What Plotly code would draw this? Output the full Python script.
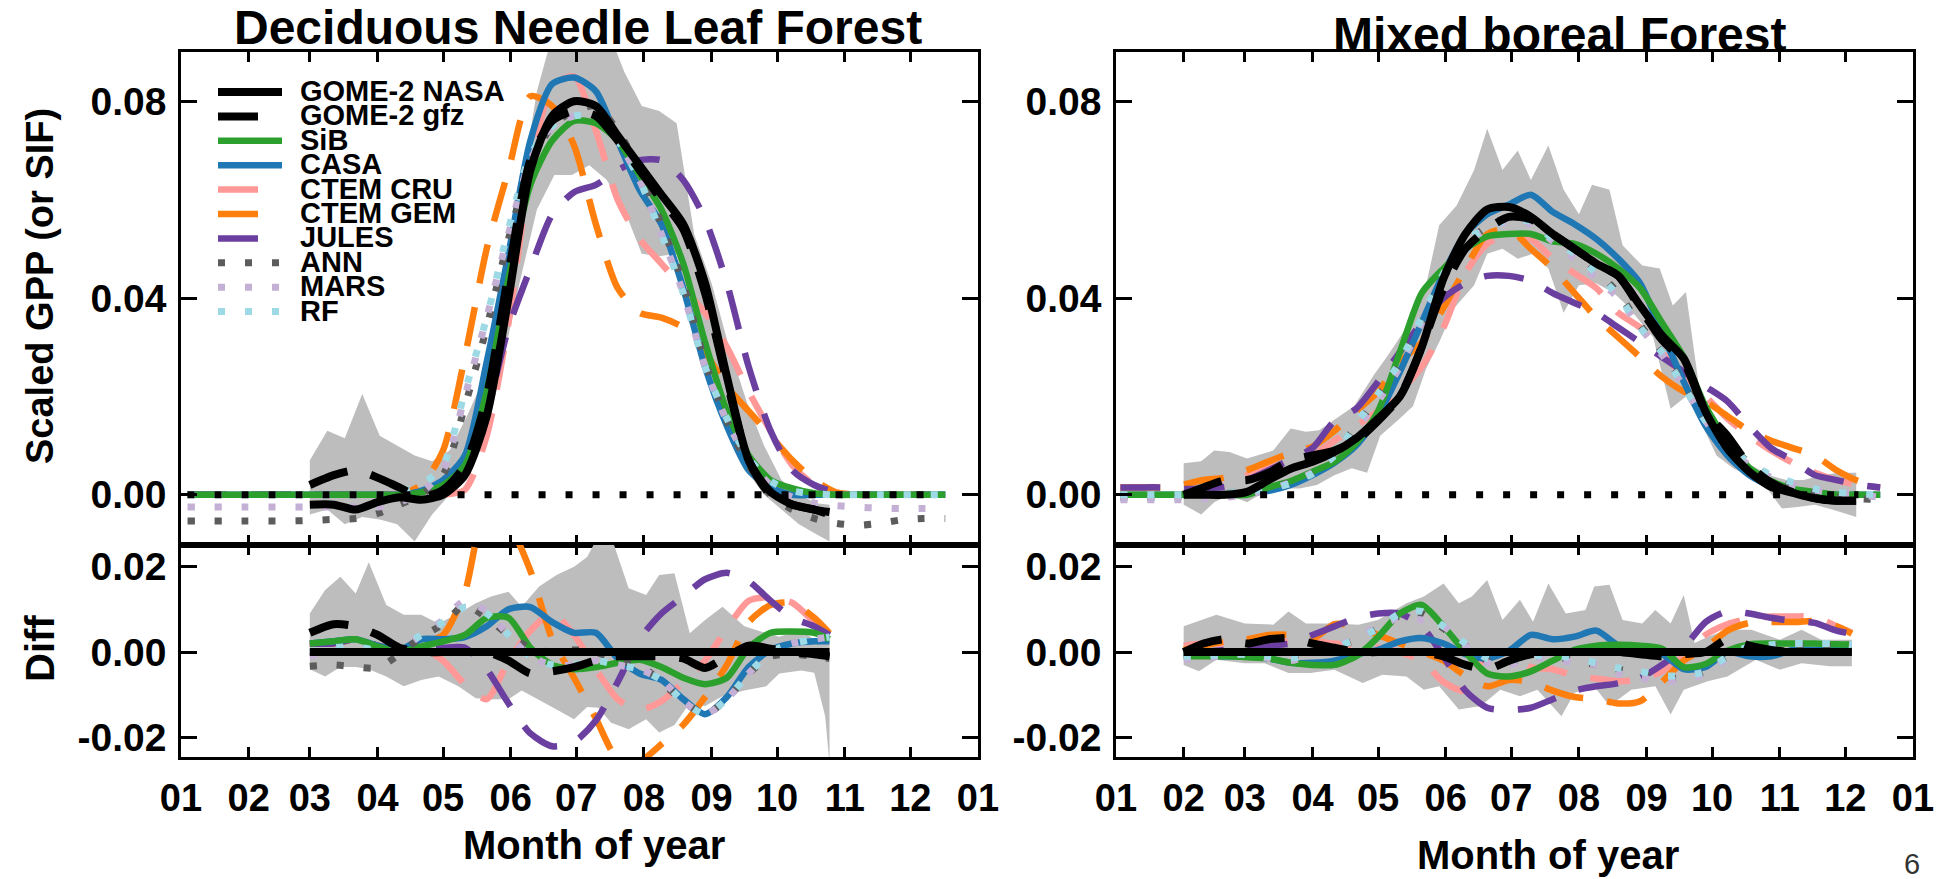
import plotly.graph_objects as go

W, H = 1950, 879
FONT = "Liberation Sans, Arial, Helvetica, sans-serif"

# ---------------- ticks ----------------
MONTH_TICKS = [0, 31, 59, 90, 120, 151, 181, 212, 243, 273, 304, 334, 365]
MONTH_LABELS = ["01", "02", "03", "04", "05", "06", "07", "08", "09", "10", "11", "12", "01"]
TOP_TICKS = [0.0, 0.04, 0.08]
TOP_TICK_LABELS = ["0.00", "0.04", "0.08"]
DIFF_TICKS = [-0.02, 0.0, 0.02]
DIFF_TICK_LABELS = ["-0.02", "0.00", "0.02"]

SERIES_NAMES = ["GOME-2 NASA", "GOME-2 gfz", "SiB", "CASA", "CTEM CRU",
                "CTEM GEM", "JULES", "ANN", "MARS", "RF"]

# ================= Deciduous Needle Leaf Forest : scaled GPP =================
DNF_DAYS = [3, 10, 20, 30, 40, 50, 60, 70, 80, 90, 100, 110, 120, 130, 140, 150, 160, 170,
            180, 190, 200, 210, 220, 230, 240, 250, 260, 270, 280, 290, 300, 310, 320, 330, 340, 350]
DNF_SIB = [0, 0, 0, 0, 0, 0, 0, 0, 0, 0, 0, 0.0005, 0.002, 0.006, 0.021, 0.044, 0.063, 0.072,
           0.076, 0.0755, 0.072, 0.065, 0.058, 0.047, 0.031, 0.017, 0.008, 0.003, 0.0013, 0.0003,
           0, 0, 0, 0, 0, 0]
DNF_CASA = [0, 0, 0, 0, 0, 0, 0, 0, 0, 0, 0, 0.0008, 0.003, 0.008, 0.027, 0.049, 0.072, 0.0835,
            0.0848, 0.082, 0.072, 0.062, 0.055, 0.042, 0.026, 0.014, 0.005, 0.0015, 0.0, 0.0,
            0, 0, 0, 0, 0, 0]
DNF_CRU = [0, 0, 0, 0, 0, 0, 0, 0, 0, 0, 0, 0, 0, 0.001, 0.012, 0.035, 0.066, 0.083,
           0.085, 0.074, 0.060, 0.052, 0.047, 0.042, 0.037, 0.030, 0.021, 0.013, 0.006, 0.002,
           0.0005, 0, 0, 0, 0, 0]
DNF_GEM = [0, 0, 0, 0, 0, 0, 0, 0, 0, 0, 0, 0.002, 0.009, 0.028, 0.050, 0.066, 0.081, 0.079,
           0.071, 0.055, 0.042, 0.037, 0.036, 0.034, 0.029, 0.022, 0.017, 0.012, 0.007, 0.003,
           0.0005, 0, 0, 0, 0, 0]
DNF_JULES = [0, 0, 0, 0, 0, 0, 0, 0, 0, 0, 0, 0, 0.001, 0.006, 0.017, 0.034, 0.046, 0.057,
             0.0615, 0.063, 0.066, 0.068, 0.068, 0.064, 0.056, 0.043, 0.026, 0.013, 0.005, 0.002,
             0.0005, 0, 0, 0, 0, 0]
DNF_ANN = [-0.0053, -0.0053, -0.0053, -0.0053, -0.0053, -0.0053, -0.0052, -0.005, -0.0048, -0.0038,
           -0.002, 0.0, 0.004, 0.018, 0.034, 0.052, 0.067, 0.075, 0.078, 0.079, 0.074, 0.066,
           0.055, 0.043, 0.027, 0.015, 0.006, 0.0, -0.003, -0.0048, -0.0058, -0.0062, -0.0058,
           -0.0051, -0.0048, -0.0048]
DNF_MARS = [-0.0025, -0.0025, -0.0025, -0.0025, -0.0025, -0.0025, -0.0025, -0.0025, -0.0025, -0.0025,
            -0.0015, 0.0005, 0.005, 0.020, 0.036, 0.053, 0.068, 0.075, 0.077, 0.077, 0.072, 0.064,
            0.053, 0.041, 0.026, 0.015, 0.007, 0.002, -0.0005, -0.0017, -0.0022, -0.0025, -0.0027,
            -0.0028, -0.0028, -0.0028]
DNF_RF = [0, 0, 0, 0, 0, 0, 0, 0, 0, 0, 0.0005, 0.002, 0.006, 0.021, 0.036, 0.054, 0.069, 0.075,
          0.077, 0.077, 0.072, 0.064, 0.053, 0.041, 0.026, 0.0155, 0.0075, 0.0028, 0.0008, 0.0002,
          0, 0, 0, 0, 0, 0]

DNF_GOME_DAYS = [59, 70, 80, 90, 100, 110, 120, 130, 140, 150, 160, 170, 180, 190, 200, 210,
                 220, 230, 240, 250, 260, 270, 280, 290, 297]
DNF_NASA = [-0.002, -0.002, -0.003, -0.0015, -0.0005, -0.001, 0.0, 0.004, 0.016, 0.040, 0.066,
            0.077, 0.080, 0.079, 0.073, 0.067, 0.061, 0.055, 0.043, 0.024, 0.007, 0.0006, -0.002,
            -0.003, -0.0035]
DNF_GFZ = [0.002, 0.004, 0.005, 0.0035, 0.0015, -0.0005, 0.001, 0.006, 0.020, 0.045, 0.068,
           0.076, 0.078, 0.077, 0.072, 0.066, 0.060, 0.054, 0.041, 0.023, 0.007, 0.0, -0.002,
           -0.003, -0.004]

DNF_BAND_DAYS = [59, 67, 75, 83, 91, 99, 107, 115, 123, 131, 139, 147, 155, 163, 171, 179, 187,
                 195, 203, 211, 219, 227, 235, 243, 251, 259, 267, 275, 283, 291, 297]
DNF_BAND_UP = [0.007, 0.013, 0.0115, 0.0205, 0.012, 0.010, 0.008, 0.0068, 0.009, 0.016, 0.024,
               0.044, 0.060, 0.082, 0.095, 0.095, 0.095, 0.095, 0.086, 0.079, 0.078, 0.0755, 0.053,
               0.043, 0.030, 0.019, 0.010, 0.003, 0.0, -0.0017, -0.002]
DNF_BAND_LO = [-0.004, -0.003, -0.006, -0.0045, -0.005, -0.006, -0.0095, -0.004, 0.0, 0.003,
               0.011, 0.026, 0.043, 0.058, 0.065, 0.065, 0.067, 0.064, 0.058, 0.049, 0.0485, 0.049,
               0.034, 0.022, 0.012, 0.005, 0.0, -0.003, -0.006, -0.008, -0.0095]
DNF_REF_DAYS = [3, 345]
DNF_REF_ZERO = [0.0, 0.0]

# ---------------- DNF : difference ----------------
DNF_DIFF_DAYS = [59, 70, 80, 90, 100, 110, 120, 130, 140, 150, 160, 170, 180, 190, 200, 210,
                 220, 230, 240, 250, 260, 270, 280, 290, 297]
DNF_D_NASA = [0, 0, 0, 0, 0, 0, 0, 0, 0, 0, 0, 0, 0, 0, 0, 0, 0, 0, 0, 0, 0, 0, 0, 0, 0]
DNF_D_GFZ = [0.0045, 0.0065, 0.006, 0.004, 0.001, 0.0, 0.0, 0.0, 0.0, -0.002, -0.005, -0.0045,
             -0.0035, -0.002, -0.001, -0.001, -0.001, -0.0015, -0.0037, -0.001, 0.0015, 0.0008,
             0.0, -0.0005, -0.001]
DNF_D_SIB = [0.002, 0.0025, 0.003, 0.0013, 0.0, 0.0013, 0.0025, 0.004, 0.008, 0.008, 0.001,
             -0.003, -0.004, -0.0035, -0.0025, -0.0018, -0.0035, -0.006, -0.0075, -0.006, 0.001,
             0.0045, 0.0048, 0.0045, 0.003]
DNF_D_CASA = [0.002, 0.0025, 0.003, 0.0015, 0.0005, 0.003, 0.003, 0.0035, 0.006, 0.010, 0.0105,
              0.007, 0.0045, 0.0045, -0.0015, -0.005, -0.0065, -0.011, -0.0145, -0.0105, -0.0035,
              0.0005, 0.002, 0.0025, 0.0025]
DNF_D_CRU = [0.002, 0.002, 0.003, 0.0015, 0.0005, 0.001, -0.002, -0.0075, -0.011, -0.002, 0.005,
             0.009, 0.004, -0.004, -0.011, -0.0135, -0.0115, -0.007, -0.002, 0.0055, 0.012, 0.0128,
             0.0115, 0.007, 0.0035]
DNF_D_GEM = [0.002, 0.002, 0.003, 0.0015, 0.0005, 0.002, 0.004, 0.014, 0.034, 0.030, 0.019,
             0.003, -0.006, -0.0155, -0.025, -0.0255, -0.0215, -0.017, -0.0105, -0.003, 0.007,
             0.011, 0.0115, 0.008, 0.0044]
DNF_D_JULES = [0.002, 0.002, 0.003, 0.0015, 0.0005, 0.001, 0.001, 0.001, -0.004, -0.012, -0.019,
               -0.022, -0.021, -0.016, -0.007, 0.003, 0.009, 0.013, 0.017, 0.0185, 0.0165, 0.012,
               0.008, 0.006, 0.004]
DNF_D_ANN = [-0.0033, -0.003, -0.0035, -0.0037, -0.0005, 0.0035, 0.0065, 0.011, 0.008, 0.004,
             0.001, 0.0, 0.0005, 0.0, -0.002, -0.003, -0.007, -0.0115, -0.0145, -0.011, -0.005,
             -0.001, -0.0005, -0.001, -0.0015]
DNF_D_MARS = [-0.001, 0.0005, 0.0008, 0.0, 0.0005, 0.004, 0.0075, 0.012, 0.0095, 0.004, -0.001,
              -0.003, -0.003, -0.002, -0.003, -0.004, -0.0065, -0.0115, -0.0145, -0.011, -0.005,
              0.0, 0.002, 0.003, 0.0035]
DNF_D_RF = [0.0, 0.001, 0.0012, 0.0005, 0.001, 0.004, 0.007, 0.0105, 0.009, 0.004, -0.001,
            -0.003, -0.003, -0.002, -0.003, -0.004, -0.0065, -0.0115, -0.0145, -0.011, -0.005,
            0.0, 0.002, 0.003, 0.0035]
DNF_DBAND_DAYS = [59, 66, 73, 80, 86, 94, 102, 110, 118, 127, 135, 142, 150, 156, 164, 172, 180,
                  186, 191, 197, 205, 213, 219, 226, 233, 240, 248, 258, 268, 274, 284, 290, 295, 297]
DNF_DBAND_UP = [0.009, 0.0145, 0.0176, 0.0137, 0.021, 0.011, 0.0087, 0.0087, 0.0067, 0.009,
                0.0114, 0.013, 0.0141, 0.0106, 0.0153, 0.018, 0.0199, 0.0222, 0.027, 0.027,
                0.0149, 0.0133, 0.018, 0.0184, 0.0044, 0.0075, 0.0106, 0.006, 0.0044, 0.0036,
                0.0052, 0.0029, 0.003, 0.003]
DNF_DBAND_LO = [-0.004, -0.0057, -0.0035, -0.0035, -0.004, -0.0057, -0.008, -0.0065, -0.0057,
                -0.008, -0.0108, -0.011, -0.011, -0.009, -0.0111, -0.0134, -0.0157, -0.0128,
                -0.013, -0.0165, -0.018, -0.0157, -0.0188, -0.017, -0.0119, -0.0126, -0.0103,
                -0.009, -0.008, -0.005, -0.0043, -0.0048, -0.015, -0.026]

# ================= Mixed boreal Forest : scaled GPP =================
MBF_DAYS = [2, 10, 20, 30, 40, 50, 60, 70, 80, 90, 100, 110, 120, 130, 140, 150, 160, 170,
            180, 190, 200, 210, 220, 230, 240, 250, 260, 270, 280, 290, 300, 310, 320, 330, 340, 350]
MBF_SIB = [0, 0, 0, 0, 0, 0, 0, 0.0015, 0.0028, 0.0047, 0.0067, 0.0105, 0.017, 0.029, 0.041,
           0.046, 0.050, 0.0525, 0.053, 0.053, 0.0515, 0.051, 0.049, 0.046, 0.042, 0.035, 0.028,
           0.018, 0.011, 0.0055, 0.0028, 0.0012, 0.0006, 0, 0, 0]
MBF_CASA = [0, 0, 0, 0, 0, 0, 0.0003, 0.0008, 0.002, 0.004, 0.0065, 0.010, 0.016, 0.025, 0.035,
            0.045, 0.053, 0.057, 0.059, 0.061, 0.0575, 0.055, 0.052, 0.048, 0.043, 0.033, 0.023,
            0.014, 0.008, 0.004, 0.0018, 0.0008, 0.0003, 0, 0, 0]
MBF_CRU = [0, 0, 0, 0, 0.001, 0.002, 0.004, 0.0055, 0.0065, 0.008, 0.011, 0.014, 0.017, 0.021,
           0.026, 0.034, 0.045, 0.051, 0.053, 0.052, 0.048, 0.045, 0.042, 0.037, 0.034, 0.029,
           0.024, 0.020, 0.0155, 0.012, 0.009, 0.0065, 0.0045, 0.003, 0.002, 0.0015]
MBF_GEM = [0.0015, 0.0015, 0.0015, 0.002, 0.003, 0.0035, 0.005, 0.0068, 0.0085, 0.0098, 0.013,
           0.017, 0.021, 0.027, 0.031, 0.038, 0.046, 0.053, 0.054, 0.050, 0.046, 0.041, 0.036,
           0.032, 0.028, 0.024, 0.021, 0.019, 0.016, 0.013, 0.011, 0.0095, 0.008, 0.005, 0.0028,
           0.002]
MBF_JULES = [0.0015, 0.0015, 0.0015, 0.0012, 0.0013, 0.0016, 0.003, 0.005, 0.0072, 0.0095, 0.015,
             0.0175, 0.023, 0.029, 0.035, 0.040, 0.043, 0.0445, 0.0445, 0.0435, 0.041, 0.039,
             0.037, 0.034, 0.031, 0.028, 0.025, 0.022, 0.019, 0.014, 0.0095, 0.007, 0.004, 0.003,
             0.002, 0.0015]
MBF_ANN = [-0.0005, -0.0005, -0.0005, -0.0003, 0.0, 0.0003, 0.0008, 0.0015, 0.0025, 0.0045,
           0.0085, 0.014, 0.020, 0.0265, 0.035, 0.044, 0.051, 0.0545, 0.0565, 0.056, 0.0525,
           0.0495, 0.0455, 0.041, 0.0345, 0.029, 0.0225, 0.0155, 0.0105, 0.0065, 0.0035, 0.0015,
           0.0003, -0.0005, -0.0008, -0.001]
MBF_MARS = [-0.001, -0.001, -0.001, -0.001, -0.0008, -0.0005, 0.0, 0.001, 0.0025, 0.0045, 0.008,
            0.0135, 0.019, 0.026, 0.035, 0.044, 0.051, 0.054, 0.0555, 0.055, 0.0515, 0.048, 0.044,
            0.040, 0.034, 0.0285, 0.022, 0.015, 0.0095, 0.006, 0.0035, 0.002, 0.001, 0.0003, 0.0,
            -0.0005]
MBF_RF = [0, 0, 0, 0, 0, 0.0003, 0.0007, 0.0013, 0.0023, 0.0043, 0.008, 0.0145, 0.0205, 0.027,
          0.036, 0.045, 0.052, 0.054, 0.056, 0.0555, 0.052, 0.049, 0.045, 0.0405, 0.034, 0.029,
          0.022, 0.015, 0.010, 0.0065, 0.004, 0.0025, 0.0012, 0.0005, 0.0002, 0]

MBF_GOME_DAYS = [31, 40, 50, 60, 70, 80, 90, 100, 110, 120, 130, 140, 150, 160, 170, 180, 190,
                 200, 210, 220, 230, 240, 250, 260, 270, 280, 290, 300, 310, 320, 330, 339]
MBF_NASA = [0.0, 0.0, 0.0, 0.0006, 0.003, 0.0053, 0.0067, 0.0087, 0.0115, 0.0155, 0.020, 0.030,
            0.044, 0.053, 0.058, 0.0585, 0.0565, 0.053, 0.050, 0.047, 0.0445, 0.0385, 0.0324,
            0.0277, 0.0169, 0.0094, 0.0047, 0.0016, 0.0004, -0.0007, -0.0012, -0.0012]
MBF_GFZ = [0.0, 0.0015, 0.003, 0.003, 0.0045, 0.007, 0.008, 0.009, 0.011, 0.015, 0.020, 0.030,
           0.042, 0.050, 0.054, 0.0565, 0.056, 0.053, 0.050, 0.047, 0.0445, 0.038, 0.0315, 0.027,
           0.017, 0.012, 0.006, 0.0025, 0.0005, -0.0007, -0.0012, -0.0012]

MBF_BAND_UP_DAYS = [31, 39, 45, 52, 60, 72, 80, 87, 93, 101, 109, 118, 124, 133, 142, 148, 156,
                    164, 170, 177, 184, 190, 198, 205, 212, 218, 226, 232, 241, 249, 255, 261, 267,
                    275, 283, 291, 299, 307, 315, 323, 331, 339]
MBF_BAND_UP = [0.0064, 0.0068, 0.009, 0.0087, 0.0074, 0.009, 0.0135, 0.0128, 0.0131, 0.0155,
               0.018, 0.0243, 0.028, 0.034, 0.0426, 0.0548, 0.0588, 0.066, 0.0744, 0.066, 0.070,
               0.064, 0.071, 0.062, 0.057, 0.063, 0.062, 0.0507, 0.0466, 0.046, 0.0385, 0.0412,
               0.022, 0.014, 0.009, 0.006, 0.004, 0.003, 0.003, 0.004, 0.0045, 0.0045]
MBF_BAND_LO_DAYS = [31, 39, 45, 52, 60, 68, 76, 84, 92, 100, 108, 115, 121, 130, 136, 142, 148,
                    155, 164, 170, 177, 184, 191, 198, 205, 212, 220, 228, 234, 246, 254, 261, 267,
                    275, 283, 296, 305, 312, 320, 328, 339]
MBF_BAND_LO = [-0.002, -0.004, -0.0015, 0.0, -0.0015, 0.0006, 0.0013, 0.0013, 0.002, 0.004,
               0.0054, 0.0045, 0.012, 0.0155, 0.018, 0.0256, 0.031, 0.038, 0.0426, 0.049, 0.050,
               0.048, 0.049, 0.046, 0.037, 0.0426, 0.043, 0.041, 0.0385, 0.032, 0.0175, 0.020,
               0.0155, 0.008, 0.0053, 0.0026, -0.0028, -0.0025, -0.002, -0.003, -0.0045]
MBF_REF_DAYS = [66, 340]
MBF_REF_ZERO = [0.0, 0.0]

# ---------------- MBF : difference ----------------
MBF_DIFF_DAYS = [31, 40, 50, 60, 70, 80, 90, 100, 110, 120, 130, 140, 150, 160, 170, 180, 190,
                 200, 210, 220, 230, 240, 250, 260, 270, 280, 290, 300, 310, 320, 330, 337]
MBF_D_NASA = [0, 0, 0, 0, 0, 0, 0, 0, 0, 0, 0, 0, 0, 0, 0, 0, 0, 0, 0, 0, 0, 0, 0, 0, 0, 0, 0,
              0, 0, 0, 0, 0]
MBF_D_GFZ = [0.0, 0.002, 0.003, 0.002, 0.003, 0.0033, 0.002, 0.001, 0.0, 0.0, 0.0, 0.0, -0.001,
             -0.003, -0.004, -0.002, -0.0005, 0.0, 0.0, 0.0, 0.0, -0.0005, -0.001, -0.0005, 0.0,
             0.003, 0.0015, 0.0005, 0.0, 0.0, 0.0, 0.0]
MBF_D_SIB = [-0.001, -0.001, -0.001, -0.0012, -0.0015, -0.0025, -0.003, -0.003, -0.001, 0.0035,
             0.009, 0.011, 0.006, 0.0, -0.005, -0.0057, -0.0045, -0.002, 0.0005, 0.0015, 0.0017,
             0.0015, 0.0008, -0.0035, -0.0028, 0.0003, 0.0018, 0.002, 0.002, 0.002, 0.0018,
             0.0018]
MBF_D_CASA = [-0.0005, -0.0008, -0.001, -0.001, -0.0015, -0.0025, -0.0025, -0.002, -0.0005,
              0.0005, 0.0025, 0.0033, 0.002, -0.0005, -0.0015, 0.0003, 0.004, 0.003, 0.0036,
              0.005, 0.0015, -0.0005, -0.0005, -0.004, -0.0035, 0.0, -0.001, -0.001, 0.0005,
              0.0005, 0.0005, 0.0005]
MBF_D_CRU = [0.0015, 0.002, 0.002, 0.002, 0.002, 0.0025, 0.0025, 0.002, 0.0015, 0.001, 0.0,
             -0.002, -0.007, -0.009, 0.0, -0.0005, -0.0035, -0.004, -0.0055, -0.0062, -0.0068,
             -0.0064, -0.0045, -0.001, 0.004, 0.0065, 0.0078, 0.0083, 0.0083, 0.0082, 0.006,
             0.0045]
MBF_D_GEM = [0.0005, 0.0015, 0.0025, 0.003, 0.004, 0.004, 0.003, 0.0065, 0.006, 0.004, 0.002,
             0.0, -0.002, -0.0055, -0.008, -0.0065, -0.007, -0.009, -0.0105, -0.011, -0.012,
             -0.0115, -0.007, -0.002, 0.001, 0.005, 0.0068, 0.007, 0.007, 0.0072, 0.006, 0.0043]
MBF_D_JULES = [0.0, 0.0, 0.0005, 0.001, 0.0015, 0.002, 0.004, 0.006, 0.008, 0.009, 0.009, 0.006,
               -0.001, -0.009, -0.013, -0.0135, -0.013, -0.011, -0.009, -0.008, -0.0073, -0.006,
               -0.003, 0.001, 0.007, 0.0095, 0.009, 0.008, 0.0073, 0.0068, 0.005, 0.0042]
MBF_D_ANN = [-0.0005, -0.0005, -0.0005, 0.0, -0.0005, -0.001, 0.0, 0.001, 0.003, 0.0055, 0.0085,
             0.009, 0.0055, 0.0015, -0.002, -0.0025, -0.001, -0.001, -0.002, -0.003, -0.004,
             -0.005, -0.006, -0.006, -0.0045, -0.001, 0.001, 0.0015, 0.0015, 0.0015, 0.0012,
             0.001]
MBF_D_MARS = [-0.0017, -0.0015, -0.0007, -0.0005, -0.0015, -0.002, -0.0005, 0.001, 0.0035,
              0.006, 0.008, 0.0075, 0.006, 0.0015, -0.0025, -0.003, -0.0015, -0.0015, -0.0025,
              -0.003, -0.005, -0.006, -0.0068, -0.0065, -0.005, -0.0015, 0.001, 0.0015, 0.002,
              0.002, 0.002, 0.0017]
MBF_D_RF = [-0.001, -0.001, -0.0005, -0.0005, -0.001, -0.0014, -0.0005, 0.001, 0.003, 0.0055,
            0.009, 0.0095, 0.006, 0.002, -0.0015, -0.002, -0.001, -0.0007, -0.0015, -0.0025,
            -0.0037, -0.0045, -0.0055, -0.0055, -0.0045, -0.001, 0.0013, 0.0017, 0.002, 0.002,
            0.002, 0.0017]
MBF_DBAND_UP_DAYS = [31, 46, 59, 72, 79, 87, 100, 111, 120, 133, 141, 150, 157, 163, 170, 177,
                     185, 191, 198, 206, 215, 219, 226, 232, 241, 247, 254, 260, 265, 271, 280,
                     291, 304, 314, 323, 337]
MBF_DBAND_UP = [0.006, 0.0087, 0.0067, 0.0064, 0.0095, 0.0067, 0.0067, 0.0064, 0.0075, 0.0114,
                0.013, 0.016, 0.0114, 0.013, 0.0168, 0.0075, 0.0122, 0.0071, 0.016, 0.009, 0.0098,
                0.0153, 0.0157, 0.0075, 0.0067, 0.0098, 0.0067, 0.0133, 0.0021, 0.0036, 0.0052,
                0.0052, 0.0029, 0.0052, 0.0029, 0.0029]
MBF_DBAND_LO_DAYS = [31, 38, 46, 59, 68, 79, 89, 100, 113, 122, 133, 141, 148, 157, 167, 176,
                     185, 193, 204, 210, 219, 226, 236, 247, 254, 260, 271, 280, 293, 304, 314,
                     327, 337]
MBF_DBAND_LO = [-0.003, -0.0045, -0.0018, -0.0026, -0.0026, -0.0049, -0.0049, -0.0041, -0.0072,
                -0.0053, -0.0057, -0.0088, -0.008, -0.0134, -0.0126, -0.0088, -0.0103, -0.0088,
                -0.015, -0.0095, -0.008, -0.0126, -0.0088, -0.008, -0.0146, -0.0088, -0.0068,
                -0.0057, -0.0018, -0.0041, -0.0026, -0.0033, -0.0033]

# ---------------- styles ----------------
DASH = "40px,24px"
DOT = "7px,20px"
STYLE = {
    "GOME-2 NASA": dict(color="#000000", width=8, dash="solid"),
    "GOME-2 gfz": dict(color="#000000", width=8, dash=DASH),
    "SiB": dict(color="#2ca02c", width=6.5, dash="solid"),
    "CASA": dict(color="#1f77b4", width=6.5, dash="solid"),
    "CTEM CRU": dict(color="#ff9896", width=6.5, dash=DASH),
    "CTEM GEM": dict(color="#ff7f0e", width=6.5, dash=DASH),
    "JULES": dict(color="#6b3fa0", width=6.5, dash=DASH),
    "ANN": dict(color="#5c5c5c", width=7, dash=DOT),
    "MARS": dict(color="#c5b0d5", width=7, dash=DOT),
    "RF": dict(color="#9edae5", width=7, dash=DOT),
}
BAND_COLOR = "#bdbdbd"
DRAW_ORDER = ["CTEM CRU", "CTEM GEM", "JULES", "CASA", "SiB", "ANN", "MARS", "RF",
              "GOME-2 gfz", "GOME-2 NASA"]
GOME = {"GOME-2 NASA", "GOME-2 gfz"}

PANELS = [
    dict(xa="x", ya="y", mdays=DNF_DAYS, gdays=DNF_GOME_DAYS,
         data={"GOME-2 NASA": DNF_NASA, "GOME-2 gfz": DNF_GFZ, "SiB": DNF_SIB, "CASA": DNF_CASA,
               "CTEM CRU": DNF_CRU, "CTEM GEM": DNF_GEM, "JULES": DNF_JULES, "ANN": DNF_ANN,
               "MARS": DNF_MARS, "RF": DNF_RF},
         band=(DNF_BAND_DAYS, DNF_BAND_UP, DNF_BAND_DAYS, DNF_BAND_LO),
         ref=(DNF_REF_DAYS, DNF_REF_ZERO)),
    dict(xa="x2", ya="y2", mdays=DNF_DIFF_DAYS, gdays=DNF_DIFF_DAYS,
         data={"GOME-2 NASA": DNF_D_NASA, "GOME-2 gfz": DNF_D_GFZ, "SiB": DNF_D_SIB,
               "CASA": DNF_D_CASA, "CTEM CRU": DNF_D_CRU, "CTEM GEM": DNF_D_GEM,
               "JULES": DNF_D_JULES, "ANN": DNF_D_ANN, "MARS": DNF_D_MARS, "RF": DNF_D_RF},
         band=(DNF_DBAND_DAYS, DNF_DBAND_UP, DNF_DBAND_DAYS, DNF_DBAND_LO), ref=None),
    dict(xa="x3", ya="y3", mdays=MBF_DAYS, gdays=MBF_GOME_DAYS,
         data={"GOME-2 NASA": MBF_NASA, "GOME-2 gfz": MBF_GFZ, "SiB": MBF_SIB, "CASA": MBF_CASA,
               "CTEM CRU": MBF_CRU, "CTEM GEM": MBF_GEM, "JULES": MBF_JULES, "ANN": MBF_ANN,
               "MARS": MBF_MARS, "RF": MBF_RF},
         band=(MBF_BAND_UP_DAYS, MBF_BAND_UP, MBF_BAND_LO_DAYS, MBF_BAND_LO),
         ref=(MBF_REF_DAYS, MBF_REF_ZERO)),
    dict(xa="x4", ya="y4", mdays=MBF_DIFF_DAYS, gdays=MBF_DIFF_DAYS,
         data={"GOME-2 NASA": MBF_D_NASA, "GOME-2 gfz": MBF_D_GFZ, "SiB": MBF_D_SIB,
               "CASA": MBF_D_CASA, "CTEM CRU": MBF_D_CRU, "CTEM GEM": MBF_D_GEM,
               "JULES": MBF_D_JULES, "ANN": MBF_D_ANN, "MARS": MBF_D_MARS, "RF": MBF_D_RF},
         band=(MBF_DBAND_UP_DAYS, MBF_DBAND_UP, MBF_DBAND_LO_DAYS, MBF_DBAND_LO), ref=None),
]

fig = go.Figure()
for p in PANELS:
    ux, uy, lx, ly = p["band"]
    fig.add_trace(go.Scatter(
        x=list(ux) + list(lx)[::-1], y=list(uy) + list(ly)[::-1],
        mode="lines", fill="toself", fillcolor=BAND_COLOR, line=dict(width=0),
        xaxis=p["xa"], yaxis=p["ya"], showlegend=False, hoverinfo="skip"))
    for name in DRAW_ORDER:
        st = STYLE[name]
        xs = p["gdays"] if name in GOME else p["mdays"]
        fig.add_trace(go.Scatter(
            x=xs, y=p["data"][name], mode="lines", name=name,
            line=dict(color=st["color"], width=st["width"], dash=st["dash"],
                      shape="spline", smoothing=0.7),
            xaxis=p["xa"], yaxis=p["ya"], showlegend=False, hoverinfo="skip"))
    if p["ref"] is not None:
        fig.add_trace(go.Scatter(
            x=p["ref"][0], y=p["ref"][1], mode="lines",
            line=dict(color="#000000", width=7, dash=DOT),
            xaxis=p["xa"], yaxis=p["ya"], showlegend=False, hoverinfo="skip"))

# ---------------- layout ----------------
def px_x(px):
    return px / W

def px_y(py):
    return 1 - py / H

LEFT = (px_x(181), px_x(978))
RIGHT = (px_x(1116), px_x(1913))
TOP = (px_y(545), px_y(52))
BOT = (px_y(757), px_y(545))
TOP_RANGE = [-0.0102, 0.0900]
DIFF_RANGE = [-0.0245, 0.0250]

xtickfont = dict(family=FONT, size=38, color="black", weight="bold")
ytickfont = dict(family=FONT, size=39, color="black", weight="bold")
base = dict(showline=True, linecolor="black", linewidth=2.5, mirror="ticks", ticks="inside",
            tickcolor="black", tickwidth=2.5, showgrid=False, zeroline=False, automargin=False)

def xaxis(domain, anchor, labels):
    d = dict(base, domain=list(domain), anchor=anchor, range=[0, 365], tickmode="array",
             tickvals=MONTH_TICKS, ticklen=10, showticklabels=labels)
    if labels:
        d.update(ticktext=MONTH_LABELS, tickfont=xtickfont, ticklabelstandoff=6)
    return d

def yaxis(domain, anchor, rng, tv, tt):
    return dict(base, domain=list(domain), anchor=anchor, range=rng, tickmode="array",
                tickvals=tv, ticktext=tt, ticklen=16, tickfont=ytickfont, ticklabelstandoff=4)

fig.update_layout(
    width=W, height=H, margin=dict(l=0, r=0, t=0, b=0, autoexpand=False),
    paper_bgcolor="white", plot_bgcolor="white", showlegend=False,
    xaxis=xaxis(LEFT, "y", False), yaxis=yaxis(TOP, "x", TOP_RANGE, TOP_TICKS, TOP_TICK_LABELS),
    xaxis2=xaxis(LEFT, "y2", True), yaxis2=yaxis(BOT, "x2", DIFF_RANGE, DIFF_TICKS, DIFF_TICK_LABELS),
    xaxis3=xaxis(RIGHT, "y3", False), yaxis3=yaxis(TOP, "x3", TOP_RANGE, TOP_TICKS, TOP_TICK_LABELS),
    xaxis4=xaxis(RIGHT, "y4", True), yaxis4=yaxis(BOT, "x4", DIFF_RANGE, DIFF_TICKS, DIFF_TICK_LABELS),
)

annotations = []
def text(t, x, y, size, bold=True, angle=0, anchor="center", color="black"):
    annotations.append(dict(text=t, x=px_x(x), y=px_y(y), xref="paper", yref="paper",
                            showarrow=False, xanchor=anchor, yanchor="middle", textangle=angle,
                            font=dict(family=FONT, size=size, color=color,
                                      weight="bold" if bold else "normal")))

text("Deciduous Needle Leaf Forest", 578, 28, 48)
text("Mixed boreal Forest", 1559, 34, 48)
text("Scaled GPP (or SIF)", 40, 286, 38, angle=-90)
text("Diff", 40, 649, 40, angle=-90)
text("Month of year", 594, 845, 40)
text("Month of year", 1548, 855, 40)
text("6", 1912, 864, 29, bold=False, color="#333333")

# manual legend (tight line spacing as in the original)
LEG_X0, LEG_X1, LEG_TX, LEG_Y0, LEG_DY = 218, 282, 298, 92, 24.4
shapes = []
for i, name in enumerate(SERIES_NAMES):
    st = STYLE[name]
    yc = LEG_Y0 + i * LEG_DY
    shapes.append(dict(type="line", xref="paper", yref="paper", x0=px_x(LEG_X0), x1=px_x(LEG_X1),
                       y0=px_y(yc), y1=px_y(yc),
                       line=dict(color=st["color"], width=st["width"], dash=st["dash"])))
    text(name, LEG_TX, yc - 1, 29, anchor="left")

fig.update_layout(annotations=annotations, shapes=shapes)
fig.write_html("out.html")
